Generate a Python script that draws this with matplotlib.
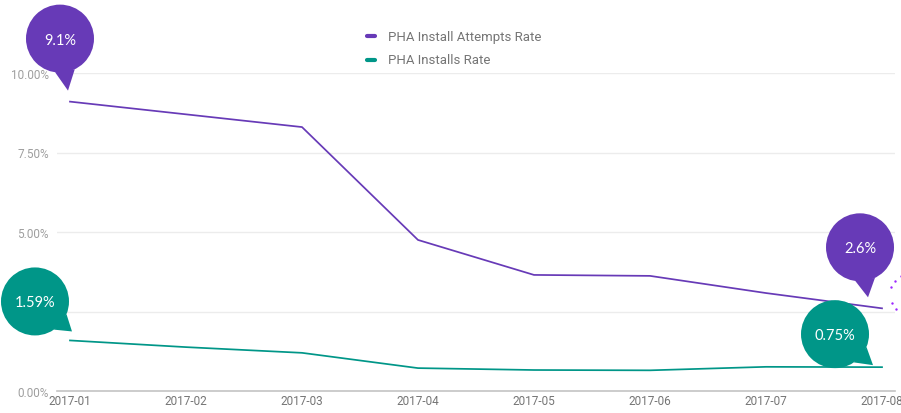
import matplotlib
matplotlib.use("Agg")
import matplotlib.pyplot as plt
from matplotlib.patches import Circle, Polygon
from matplotlib.lines import Line2D
import numpy as np

months = ["2017-01", "2017-02", "2017-03", "2017-04", "2017-05", "2017-06", "2017-07", "2017-08"]
attempts_rate = [9.1, 8.7, 8.3, 4.75, 3.65, 3.62, 3.08, 2.6]
installs_rate = [1.59, 1.38, 1.2, 0.72, 0.66, 0.65, 0.76, 0.75]
y_ticks = [0, 2.5, 5, 7.5, 10]
series_names = ["PHA Install Attempts Rate", "PHA Installs Rate"]

PURPLE = "#673ab7"
TEAL = "#009688"
W, H = 901, 414

plt.rcParams["font.family"] = ["Roboto", "DejaVu Sans"]
fig = plt.figure(figsize=(W / 100, H / 100), dpi=100)
ax = fig.add_axes([57 / W, 22 / H, (895 - 57) / W, 318 / H])

x = np.arange(len(months))
ax.plot(x, attempts_rate, color=PURPLE, lw=1.25, solid_joinstyle="round", zorder=3)
ax.plot(x, installs_rate, color=TEAL, lw=1.25, solid_joinstyle="round", zorder=3)

ax.set_xlim(-0.112, len(months) - 1 + 0.112)
ax.set_ylim(0, 10)
ax.set_yticks(y_ticks)
ax.set_yticklabels([f"{v:.2f}%" for v in y_ticks], fontsize=8.5, color="#9e9e9e")
ax.set_xticks(x)
ax.set_xticklabels(months, fontsize=8.5, color="#757575")
ax.tick_params(axis="both", length=0)
ax.tick_params(axis="y", pad=6)
ax.tick_params(axis="x", pad=2)
for s in ["top", "right", "left"]:
    ax.spines[s].set_visible(False)
ax.spines["bottom"].set_color("#c4c4c4")
ax.spines["bottom"].set_linewidth(1.2)
ax.grid(axis="y", color="#ececec", lw=1)
ax.set_axisbelow(True)

# overlay in pixel coordinates for the value bubbles and legend
ov = fig.add_axes([0, 0, 1, 1], zorder=5)
ov.set_xlim(0, W)
ov.set_ylim(H, 0)
ov.axis("off")
ov.patch.set_alpha(0)

fig.canvas.draw()


def to_px(xv, yv):
    px, py = ax.transData.transform((xv, yv))
    return px, H - py


def bubble(xv, yv, text, color, center_off, tip_off, r=34):
    px, py = to_px(xv, yv)
    cx, cy = px + center_off[0], py + center_off[1]
    tx, ty = px + tip_off[0], py + tip_off[1]
    ang = np.arctan2(ty - cy, tx - cx)
    spread = np.deg2rad(17)
    b1 = (cx + r * np.cos(ang - spread), cy + r * np.sin(ang - spread))
    b2 = (cx + r * np.cos(ang + spread), cy + r * np.sin(ang + spread))
    ov.add_patch(Polygon([b1, (tx, ty), b2], closed=True, color=color, lw=0))
    ov.add_patch(Circle((cx, cy), r, color=color, lw=0))
    ov.text(cx, cy + 1, text, color="white", fontsize=10.5, family=["Lato", "DejaVu Sans"],
            ha="center", va="center")


bubble(0, attempts_rate[0], f"{attempts_rate[0]}%", PURPLE, (-10, -63), (-2, -11))
bubble(0, installs_rate[0], f"{installs_rate[0]}%", TEAL, (-35, -39), (2, -9))
bubble(7, attempts_rate[-1], f"{attempts_rate[-1]}%", PURPLE, (-22, -61), (-14, -11))
bubble(7, installs_rate[-1], f"{installs_rate[-1]}%", TEAL, (-47, -33), (-9, -2))

# dotted hover ring around the last point (partly beyond the right edge)
lx, ly = to_px(7, attempts_rate[-1])
ring_angles = np.deg2rad([-119, -140, -161, 157, 137, 116])
ov.scatter(lx + 29 + 21 * np.cos(ring_angles), ly - 14 + 21 * np.sin(ring_angles), s=3,
           color="#9c27ff", lw=0, clip_on=True)

# legend
for i, (name, col) in enumerate(zip(series_names, [PURPLE, TEAL])):
    yy = 37 + 24 * i
    ov.add_line(Line2D([367, 375], [yy, yy], color=col, lw=3, solid_capstyle="round"))
    ov.text(388, yy, name, fontsize=9.5, color="#757575", ha="left", va="center")

fig.savefig("out.png", dpi=100)
